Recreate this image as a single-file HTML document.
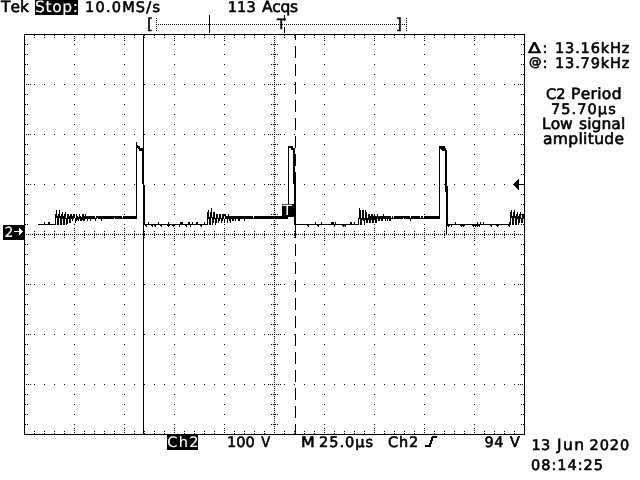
<!DOCTYPE html>
<html lang="en">
<head>
<meta charset="utf-8">
<title>Tek oscilloscope capture</title>
<style>
html,body{margin:0;padding:0;background:#fff;overflow:hidden}
body{width:640px;height:480px;position:relative}
svg{display:block;position:absolute;left:0;top:0}
.g{fill:#000;shape-rendering:crispEdges}
text{font-family:"DejaVu Sans","Liberation Sans",sans-serif;font-size:14.5px;font-kerning:none;fill:#000;stroke:#000;stroke-width:0.6;stroke-linejoin:round;text-rendering:geometricPrecision;white-space:pre}
text.w{fill:#fff;stroke:#fff;stroke-width:0.15}
</style>
</head>
<body>
<svg width="640" height="480" viewBox="0 0 640 480">
<rect width="640" height="480" fill="#fff"/>
<path class="g" d="M3 225h1v15h-1zM4 225h1v15h-1zM5 225h1v15h-1zM6 225h1v15h-1zM7 225h1v15h-1zM8 225h1v15h-1zM9 225h1v15h-1zM10 225h1v15h-1zM11 225h1v15h-1zM12 225h1v15h-1zM13 225h1v15h-1zM14 225h1v6h-1zM14 232h1v8h-1zM15 225h1v6h-1zM15 232h1v8h-1zM16 225h1v6h-1zM16 232h1v8h-1zM17 225h1v6h-1zM17 232h1v8h-1zM18 225h1v6h-1zM18 232h1v8h-1zM20 234h1v6h-1zM21 233h1v7h-1zM22 225h1v6h-1zM22 232h1v8h-1zM23 225h1v15h-1zM24 34h1v401h-1zM35 0h1v15h-1zM36 0h1v15h-1zM37 0h1v15h-1zM38 0h1v15h-1zM39 0h1v15h-1zM40 0h1v15h-1zM41 0h1v15h-1zM42 0h1v15h-1zM43 0h1v15h-1zM44 0h1v15h-1zM45 0h1v15h-1zM46 0h1v15h-1zM47 0h1v15h-1zM48 0h1v15h-1zM49 0h1v15h-1zM50 0h1v15h-1zM51 0h1v15h-1zM52 0h1v15h-1zM53 0h1v15h-1zM54 0h1v15h-1zM55 0h1v15h-1zM55 214h1v11h-1zM56 0h1v15h-1zM56 210h1v8h-1zM57 0h1v15h-1zM57 216h1v9h-1zM58 0h1v15h-1zM58 214h1v11h-1zM59 0h1v15h-1zM59 210h1v8h-1zM60 0h1v15h-1zM60 216h1v9h-1zM61 0h1v15h-1zM61 214h1v11h-1zM62 0h1v15h-1zM62 212h1v7h-1zM63 0h1v15h-1zM63 216h1v9h-1zM64 0h1v15h-1zM64 214h1v11h-1zM65 0h1v15h-1zM65 212h1v7h-1zM66 0h1v15h-1zM66 218h1v7h-1zM67 0h1v15h-1zM67 214h1v10h-1zM68 0h1v15h-1zM69 0h1v15h-1zM69 216h1v7h-1zM70 0h1v15h-1zM70 214h1v9h-1zM71 0h1v15h-1zM72 0h1v15h-1zM73 0h1v15h-1zM74 0h1v15h-1zM75 0h1v15h-1zM76 0h1v15h-1zM76 214h1v7h-1zM77 0h1v15h-1zM82 214h1v6h-1zM83 214h1v7h-1zM136 142h1v77h-1zM142 148h1v36h-1zM143 34h1v401h-1zM144 185h1v40h-1zM167 434h1v16h-1zM168 434h1v16h-1zM169 434h1v16h-1zM170 434h1v16h-1zM171 434h1v16h-1zM172 434h1v16h-1zM173 434h1v16h-1zM174 434h1v16h-1zM175 434h1v16h-1zM176 434h1v16h-1zM177 434h1v16h-1zM178 434h1v16h-1zM179 434h1v16h-1zM180 434h1v16h-1zM181 434h1v16h-1zM182 434h1v16h-1zM183 434h1v16h-1zM184 433h1v17h-1zM185 434h1v16h-1zM186 434h1v16h-1zM187 434h1v16h-1zM188 434h1v16h-1zM189 434h1v16h-1zM190 434h1v16h-1zM191 434h1v16h-1zM192 434h1v16h-1zM193 434h1v16h-1zM194 433h1v17h-1zM195 434h1v16h-1zM196 434h1v16h-1zM197 434h1v16h-1zM207 212h1v13h-1zM208 210h1v9h-1zM209 15h1v18h-1zM209 217h1v8h-1zM210 212h1v13h-1zM211 208h1v10h-1zM212 217h1v8h-1zM213 212h1v11h-1zM214 212h1v7h-1zM215 218h1v7h-1zM216 214h1v9h-1zM219 214h1v7h-1zM222 214h1v7h-1zM227 216h1v7h-1zM230 216h1v7h-1zM282 204h1v15h-1zM283 204h1v15h-1zM284 15h1v6h-1zM284 27h1v6h-1zM284 204h1v15h-1zM285 204h1v15h-1zM286 204h1v15h-1zM287 204h1v15h-1zM288 146h1v71h-1zM289 204h1v13h-1zM290 204h1v13h-1zM291 204h1v13h-1zM292 204h1v13h-1zM293 148h1v36h-1zM293 204h1v13h-1zM294 148h1v77h-1zM295 34h1v6h-1zM295 46h1v12h-1zM295 64h1v12h-1zM295 82h1v12h-1zM295 100h1v12h-1zM295 118h1v12h-1zM295 136h1v12h-1zM295 154h1v12h-1zM295 172h1v66h-1zM295 244h1v12h-1zM295 262h1v12h-1zM295 280h1v12h-1zM295 298h1v12h-1zM295 316h1v12h-1zM295 334h1v12h-1zM295 352h1v12h-1zM295 370h1v12h-1zM295 388h1v12h-1zM295 406h1v12h-1zM295 424h1v11h-1zM358 218h1v7h-1zM359 208h1v11h-1zM360 210h1v15h-1zM361 218h1v7h-1zM362 210h1v10h-1zM363 210h1v11h-1zM364 218h1v7h-1zM365 210h1v10h-1zM366 212h1v11h-1zM368 214h1v6h-1zM369 214h1v9h-1zM370 216h1v7h-1zM371 214h1v6h-1zM372 214h1v9h-1zM373 216h1v7h-1zM374 214h1v6h-1zM375 216h1v7h-1zM376 216h1v7h-1zM430 440h1v7h-1zM431 437h1v7h-1zM439 146h1v73h-1zM445 148h1v44h-1zM446 150h1v85h-1zM447 186h1v40h-1zM510 212h1v13h-1zM511 210h1v8h-1zM512 216h1v9h-1zM513 212h1v13h-1zM514 210h1v8h-1zM515 216h1v9h-1zM516 181h1v7h-1zM516 214h1v11h-1zM517 180h1v9h-1zM517 212h1v7h-1zM518 179h1v11h-1zM518 216h1v9h-1zM519 214h1v9h-1zM520 212h1v7h-1zM522 214h1v9h-1zM524 34h1v401h-1zM156 18h1v1h-1zM406 18h1v1h-1zM156 20h1v1h-1zM406 20h1v1h-1zM156 22h1v1h-1zM406 22h1v1h-1zM156 24h1v1h-1zM158 24h1v1h-1zM160 24h1v1h-1zM162 24h1v1h-1zM164 24h1v1h-1zM166 24h1v1h-1zM168 24h1v1h-1zM170 24h1v1h-1zM172 24h1v1h-1zM174 24h1v1h-1zM176 24h1v1h-1zM178 24h1v1h-1zM180 24h1v1h-1zM182 24h1v1h-1zM184 24h1v1h-1zM186 24h1v1h-1zM188 24h1v1h-1zM190 24h1v1h-1zM192 24h1v1h-1zM194 24h1v1h-1zM196 24h1v1h-1zM198 24h1v1h-1zM200 24h1v1h-1zM202 24h1v1h-1zM204 24h1v1h-1zM206 24h1v1h-1zM208 24h1v1h-1zM210 24h1v1h-1zM212 24h1v1h-1zM214 24h1v1h-1zM216 24h1v1h-1zM218 24h1v1h-1zM220 24h1v1h-1zM222 24h1v1h-1zM224 24h1v1h-1zM226 24h1v1h-1zM228 24h1v1h-1zM230 24h1v1h-1zM232 24h1v1h-1zM234 24h1v1h-1zM236 24h1v1h-1zM238 24h1v1h-1zM240 24h1v1h-1zM242 24h1v1h-1zM244 24h1v1h-1zM246 24h1v1h-1zM248 24h1v1h-1zM250 24h1v1h-1zM252 24h1v1h-1zM254 24h1v1h-1zM256 24h1v1h-1zM258 24h1v1h-1zM260 24h1v1h-1zM262 24h1v1h-1zM264 24h1v1h-1zM266 24h1v1h-1zM268 24h1v1h-1zM270 24h1v1h-1zM272 24h1v1h-1zM274 24h1v1h-1zM276 24h1v1h-1zM278 24h1v1h-1zM280 24h1v1h-1zM282 24h1v1h-1zM284 24h1v1h-1zM286 24h1v1h-1zM288 24h1v1h-1zM290 24h1v1h-1zM292 24h1v1h-1zM294 24h1v1h-1zM296 24h1v1h-1zM298 24h1v1h-1zM300 24h1v1h-1zM302 24h1v1h-1zM304 24h1v1h-1zM306 24h1v1h-1zM308 24h1v1h-1zM310 24h1v1h-1zM312 24h1v1h-1zM314 24h1v1h-1zM316 24h1v1h-1zM318 24h1v1h-1zM320 24h1v1h-1zM322 24h1v1h-1zM324 24h1v1h-1zM326 24h1v1h-1zM328 24h1v1h-1zM330 24h1v1h-1zM332 24h1v1h-1zM334 24h1v1h-1zM336 24h1v1h-1zM338 24h1v1h-1zM340 24h1v1h-1zM342 24h1v1h-1zM344 24h1v1h-1zM346 24h1v1h-1zM348 24h1v1h-1zM350 24h1v1h-1zM352 24h1v1h-1zM354 24h1v1h-1zM356 24h1v1h-1zM358 24h1v1h-1zM360 24h1v1h-1zM362 24h1v1h-1zM364 24h1v1h-1zM366 24h1v1h-1zM368 24h1v1h-1zM370 24h1v1h-1zM372 24h1v1h-1zM374 24h1v1h-1zM376 24h1v1h-1zM378 24h1v1h-1zM380 24h1v1h-1zM382 24h1v1h-1zM384 24h1v1h-1zM386 24h1v1h-1zM388 24h1v1h-1zM390 24h1v1h-1zM392 24h1v1h-1zM394 24h1v1h-1zM396 24h1v1h-1zM398 24h1v1h-1zM400 24h1v1h-1zM402 24h1v1h-1zM404 24h1v1h-1zM406 24h1v1h-1zM156 26h1v1h-1zM406 26h1v1h-1zM156 28h1v1h-1zM406 28h1v1h-1zM156 30h1v1h-1zM406 30h1v1h-1zM25 34h118v1h-118zM144 34h151v1h-151zM296 34h228v1h-228zM34 35h1v1h-1zM44 35h1v1h-1zM54 35h1v1h-1zM64 35h1v1h-1zM84 35h1v1h-1zM94 35h1v1h-1zM104 35h1v1h-1zM114 35h1v1h-1zM134 35h1v1h-1zM144 35h1v1h-1zM154 35h1v1h-1zM164 35h1v1h-1zM184 35h1v1h-1zM194 35h1v1h-1zM204 35h1v1h-1zM214 35h1v1h-1zM234 35h1v1h-1zM244 35h1v1h-1zM254 35h1v1h-1zM264 35h1v1h-1zM284 35h1v1h-1zM294 35h1v1h-1zM304 35h1v1h-1zM314 35h1v1h-1zM334 35h1v1h-1zM344 35h1v1h-1zM354 35h1v1h-1zM364 35h1v1h-1zM384 35h1v1h-1zM394 35h1v1h-1zM404 35h1v1h-1zM414 35h1v1h-1zM434 35h1v1h-1zM444 35h1v1h-1zM454 35h1v1h-1zM464 35h1v1h-1zM484 35h1v1h-1zM494 35h1v1h-1zM504 35h1v1h-1zM514 35h1v1h-1zM74 36h1v1h-1zM124 36h1v1h-1zM174 36h1v1h-1zM224 36h1v1h-1zM274 36h1v1h-1zM324 36h1v1h-1zM374 36h1v1h-1zM424 36h1v1h-1zM474 36h1v1h-1zM34 37h1v1h-1zM44 37h1v1h-1zM54 37h1v1h-1zM64 37h1v1h-1zM84 37h1v1h-1zM94 37h1v1h-1zM104 37h1v1h-1zM114 37h1v1h-1zM134 37h1v1h-1zM144 37h1v1h-1zM154 37h1v1h-1zM164 37h1v1h-1zM184 37h1v1h-1zM194 37h1v1h-1zM204 37h1v1h-1zM214 37h1v1h-1zM234 37h1v1h-1zM244 37h1v1h-1zM254 37h1v1h-1zM264 37h1v1h-1zM284 37h1v1h-1zM294 37h1v1h-1zM304 37h1v1h-1zM314 37h1v1h-1zM334 37h1v1h-1zM344 37h1v1h-1zM354 37h1v1h-1zM364 37h1v1h-1zM384 37h1v1h-1zM394 37h1v1h-1zM404 37h1v1h-1zM414 37h1v1h-1zM434 37h1v1h-1zM444 37h1v1h-1zM454 37h1v1h-1zM464 37h1v1h-1zM484 37h1v1h-1zM494 37h1v1h-1zM504 37h1v1h-1zM514 37h1v1h-1zM74 38h1v1h-1zM124 38h1v1h-1zM174 38h1v1h-1zM224 38h1v1h-1zM274 38h1v1h-1zM324 38h1v1h-1zM374 38h1v1h-1zM424 38h1v1h-1zM474 38h1v1h-1zM74 40h1v1h-1zM124 40h1v1h-1zM174 40h1v1h-1zM224 40h1v1h-1zM274 40h1v1h-1zM324 40h1v1h-1zM374 40h1v1h-1zM424 40h1v1h-1zM474 40h1v1h-1zM274 42h1v1h-1zM25 44h1v1h-1zM27 44h1v1h-1zM74 44h1v1h-1zM124 44h1v1h-1zM174 44h1v1h-1zM224 44h1v1h-1zM271 44h1v1h-1zM273 44h3v1h-3zM277 44h1v1h-1zM324 44h1v1h-1zM374 44h1v1h-1zM424 44h1v1h-1zM474 44h1v1h-1zM521 44h1v1h-1zM523 44h1v1h-1zM274 46h1v1h-1zM274 48h1v1h-1zM274 50h1v1h-1zM274 52h1v1h-1zM25 54h1v1h-1zM27 54h1v1h-1zM74 54h1v1h-1zM124 54h1v1h-1zM174 54h1v1h-1zM224 54h1v1h-1zM271 54h1v1h-1zM273 54h3v1h-3zM277 54h1v1h-1zM324 54h1v1h-1zM374 54h1v1h-1zM424 54h1v1h-1zM474 54h1v1h-1zM521 54h1v1h-1zM523 54h1v1h-1zM274 56h1v1h-1zM274 58h1v1h-1zM274 60h1v1h-1zM274 62h1v1h-1zM25 64h1v1h-1zM27 64h1v1h-1zM74 64h1v1h-1zM124 64h1v1h-1zM174 64h1v1h-1zM224 64h1v1h-1zM271 64h1v1h-1zM273 64h3v1h-3zM277 64h1v1h-1zM324 64h1v1h-1zM374 64h1v1h-1zM424 64h1v1h-1zM474 64h1v1h-1zM521 64h1v1h-1zM523 64h1v1h-1zM274 66h1v1h-1zM274 68h1v1h-1zM274 70h1v1h-1zM274 72h1v1h-1zM25 74h1v1h-1zM27 74h1v1h-1zM74 74h1v1h-1zM124 74h1v1h-1zM174 74h1v1h-1zM224 74h1v1h-1zM271 74h1v1h-1zM273 74h3v1h-3zM277 74h1v1h-1zM324 74h1v1h-1zM374 74h1v1h-1zM424 74h1v1h-1zM474 74h1v1h-1zM521 74h1v1h-1zM523 74h1v1h-1zM274 76h1v1h-1zM274 78h1v1h-1zM274 80h1v1h-1zM274 82h1v1h-1zM26 84h1v1h-1zM28 84h1v1h-1zM30 84h1v1h-1zM34 84h1v1h-1zM44 84h1v1h-1zM54 84h1v1h-1zM64 84h1v1h-1zM74 84h1v1h-1zM84 84h1v1h-1zM94 84h1v1h-1zM104 84h1v1h-1zM114 84h1v1h-1zM124 84h1v1h-1zM134 84h1v1h-1zM144 84h1v1h-1zM154 84h1v1h-1zM164 84h1v1h-1zM174 84h1v1h-1zM184 84h1v1h-1zM194 84h1v1h-1zM204 84h1v1h-1zM214 84h1v1h-1zM224 84h1v1h-1zM234 84h1v1h-1zM244 84h1v1h-1zM254 84h1v1h-1zM264 84h1v1h-1zM268 84h1v1h-1zM270 84h1v1h-1zM272 84h1v1h-1zM274 84h1v1h-1zM276 84h1v1h-1zM278 84h1v1h-1zM280 84h1v1h-1zM284 84h1v1h-1zM294 84h1v1h-1zM304 84h1v1h-1zM314 84h1v1h-1zM324 84h1v1h-1zM334 84h1v1h-1zM344 84h1v1h-1zM354 84h1v1h-1zM364 84h1v1h-1zM374 84h1v1h-1zM384 84h1v1h-1zM394 84h1v1h-1zM404 84h1v1h-1zM414 84h1v1h-1zM424 84h1v1h-1zM434 84h1v1h-1zM444 84h1v1h-1zM454 84h1v1h-1zM464 84h1v1h-1zM474 84h1v1h-1zM484 84h1v1h-1zM494 84h1v1h-1zM504 84h1v1h-1zM514 84h1v1h-1zM518 84h1v1h-1zM520 84h1v1h-1zM522 84h1v1h-1zM274 86h1v1h-1zM274 88h1v1h-1zM274 90h1v1h-1zM274 92h1v1h-1zM25 94h1v1h-1zM27 94h1v1h-1zM74 94h1v1h-1zM124 94h1v1h-1zM174 94h1v1h-1zM224 94h1v1h-1zM271 94h1v1h-1zM273 94h3v1h-3zM277 94h1v1h-1zM324 94h1v1h-1zM374 94h1v1h-1zM424 94h1v1h-1zM474 94h1v1h-1zM521 94h1v1h-1zM523 94h1v1h-1zM274 96h1v1h-1zM274 98h1v1h-1zM274 100h1v1h-1zM274 102h1v1h-1zM25 104h1v1h-1zM27 104h1v1h-1zM74 104h1v1h-1zM124 104h1v1h-1zM174 104h1v1h-1zM224 104h1v1h-1zM271 104h1v1h-1zM273 104h3v1h-3zM277 104h1v1h-1zM324 104h1v1h-1zM374 104h1v1h-1zM424 104h1v1h-1zM474 104h1v1h-1zM521 104h1v1h-1zM523 104h1v1h-1zM274 106h1v1h-1zM274 108h1v1h-1zM274 110h1v1h-1zM274 112h1v1h-1zM25 114h1v1h-1zM27 114h1v1h-1zM74 114h1v1h-1zM124 114h1v1h-1zM174 114h1v1h-1zM224 114h1v1h-1zM271 114h1v1h-1zM273 114h3v1h-3zM277 114h1v1h-1zM324 114h1v1h-1zM374 114h1v1h-1zM424 114h1v1h-1zM474 114h1v1h-1zM521 114h1v1h-1zM523 114h1v1h-1zM274 116h1v1h-1zM274 118h1v1h-1zM274 120h1v1h-1zM274 122h1v1h-1zM25 124h1v1h-1zM27 124h1v1h-1zM74 124h1v1h-1zM124 124h1v1h-1zM174 124h1v1h-1zM224 124h1v1h-1zM271 124h1v1h-1zM273 124h3v1h-3zM277 124h1v1h-1zM324 124h1v1h-1zM374 124h1v1h-1zM424 124h1v1h-1zM474 124h1v1h-1zM521 124h1v1h-1zM523 124h1v1h-1zM274 126h1v1h-1zM274 128h1v1h-1zM274 130h1v1h-1zM274 132h1v1h-1zM26 134h1v1h-1zM28 134h1v1h-1zM30 134h1v1h-1zM34 134h1v1h-1zM44 134h1v1h-1zM54 134h1v1h-1zM64 134h1v1h-1zM74 134h1v1h-1zM84 134h1v1h-1zM94 134h1v1h-1zM104 134h1v1h-1zM114 134h1v1h-1zM124 134h1v1h-1zM134 134h1v1h-1zM144 134h1v1h-1zM154 134h1v1h-1zM164 134h1v1h-1zM174 134h1v1h-1zM184 134h1v1h-1zM194 134h1v1h-1zM204 134h1v1h-1zM214 134h1v1h-1zM224 134h1v1h-1zM234 134h1v1h-1zM244 134h1v1h-1zM254 134h1v1h-1zM264 134h1v1h-1zM268 134h1v1h-1zM270 134h1v1h-1zM272 134h1v1h-1zM274 134h1v1h-1zM276 134h1v1h-1zM278 134h1v1h-1zM280 134h1v1h-1zM284 134h1v1h-1zM294 134h1v1h-1zM304 134h1v1h-1zM314 134h1v1h-1zM324 134h1v1h-1zM334 134h1v1h-1zM344 134h1v1h-1zM354 134h1v1h-1zM364 134h1v1h-1zM374 134h1v1h-1zM384 134h1v1h-1zM394 134h1v1h-1zM404 134h1v1h-1zM414 134h1v1h-1zM424 134h1v1h-1zM434 134h1v1h-1zM444 134h1v1h-1zM454 134h1v1h-1zM464 134h1v1h-1zM474 134h1v1h-1zM484 134h1v1h-1zM494 134h1v1h-1zM504 134h1v1h-1zM514 134h1v1h-1zM518 134h1v1h-1zM520 134h1v1h-1zM522 134h1v1h-1zM274 136h1v1h-1zM274 138h1v1h-1zM274 140h1v1h-1zM274 142h1v1h-1zM25 144h1v1h-1zM27 144h1v1h-1zM74 144h1v1h-1zM124 144h1v1h-1zM174 144h1v1h-1zM224 144h1v1h-1zM271 144h1v1h-1zM273 144h3v1h-3zM277 144h1v1h-1zM324 144h1v1h-1zM374 144h1v1h-1zM424 144h1v1h-1zM474 144h1v1h-1zM521 144h1v1h-1zM523 144h1v1h-1zM137 145h1v1h-1zM137 146h3v1h-3zM274 146h1v1h-1zM289 146h4v1h-4zM440 146h5v1h-5zM137 147h3v1h-3zM289 147h4v1h-4zM440 147h5v1h-5zM138 148h4v1h-4zM274 148h1v1h-1zM291 148h2v1h-2zM440 148h5v1h-5zM139 149h3v1h-3zM291 149h2v1h-2zM441 149h4v1h-4zM139 150h3v1h-3zM274 150h1v1h-1zM442 150h3v1h-3zM274 152h1v1h-1zM25 154h1v1h-1zM27 154h1v1h-1zM74 154h1v1h-1zM124 154h1v1h-1zM174 154h1v1h-1zM224 154h1v1h-1zM271 154h1v1h-1zM273 154h3v1h-3zM277 154h1v1h-1zM324 154h1v1h-1zM374 154h1v1h-1zM424 154h1v1h-1zM474 154h1v1h-1zM521 154h1v1h-1zM523 154h1v1h-1zM274 156h1v1h-1zM274 158h1v1h-1zM274 160h1v1h-1zM274 162h1v1h-1zM25 164h1v1h-1zM27 164h1v1h-1zM74 164h1v1h-1zM124 164h1v1h-1zM174 164h1v1h-1zM224 164h1v1h-1zM271 164h1v1h-1zM273 164h3v1h-3zM277 164h1v1h-1zM324 164h1v1h-1zM374 164h1v1h-1zM424 164h1v1h-1zM474 164h1v1h-1zM521 164h1v1h-1zM523 164h1v1h-1zM274 166h1v1h-1zM274 168h1v1h-1zM274 170h1v1h-1zM274 172h1v1h-1zM25 174h1v1h-1zM27 174h1v1h-1zM74 174h1v1h-1zM124 174h1v1h-1zM174 174h1v1h-1zM224 174h1v1h-1zM271 174h1v1h-1zM273 174h3v1h-3zM277 174h1v1h-1zM324 174h1v1h-1zM374 174h1v1h-1zM424 174h1v1h-1zM474 174h1v1h-1zM521 174h1v1h-1zM523 174h1v1h-1zM274 176h1v1h-1zM274 178h1v1h-1zM274 180h1v1h-1zM274 182h1v1h-1zM515 182h1v1h-1zM514 183h2v1h-2zM26 184h1v1h-1zM28 184h1v1h-1zM30 184h1v1h-1zM34 184h1v1h-1zM44 184h1v1h-1zM54 184h1v1h-1zM64 184h1v1h-1zM74 184h1v1h-1zM84 184h1v1h-1zM94 184h1v1h-1zM104 184h1v1h-1zM114 184h1v1h-1zM124 184h1v1h-1zM134 184h1v1h-1zM154 184h1v1h-1zM164 184h1v1h-1zM174 184h1v1h-1zM184 184h1v1h-1zM194 184h1v1h-1zM204 184h1v1h-1zM214 184h1v1h-1zM224 184h1v1h-1zM234 184h1v1h-1zM244 184h1v1h-1zM254 184h1v1h-1zM264 184h1v1h-1zM268 184h1v1h-1zM270 184h1v1h-1zM272 184h1v1h-1zM274 184h1v1h-1zM276 184h1v1h-1zM278 184h1v1h-1zM280 184h1v1h-1zM284 184h1v1h-1zM304 184h1v1h-1zM314 184h1v1h-1zM324 184h1v1h-1zM334 184h1v1h-1zM344 184h1v1h-1zM354 184h1v1h-1zM364 184h1v1h-1zM374 184h1v1h-1zM384 184h1v1h-1zM394 184h1v1h-1zM404 184h1v1h-1zM414 184h1v1h-1zM424 184h1v1h-1zM434 184h1v1h-1zM444 184h1v1h-1zM454 184h1v1h-1zM464 184h1v1h-1zM474 184h1v1h-1zM484 184h1v1h-1zM494 184h1v1h-1zM504 184h1v1h-1zM513 184h3v1h-3zM519 184h5v1h-5zM514 185h2v1h-2zM274 186h1v1h-1zM515 186h1v1h-1zM274 188h1v1h-1zM274 190h1v1h-1zM274 192h1v1h-1zM25 194h1v1h-1zM27 194h1v1h-1zM74 194h1v1h-1zM124 194h1v1h-1zM174 194h1v1h-1zM224 194h1v1h-1zM271 194h1v1h-1zM273 194h3v1h-3zM277 194h1v1h-1zM324 194h1v1h-1zM374 194h1v1h-1zM424 194h1v1h-1zM474 194h1v1h-1zM521 194h1v1h-1zM523 194h1v1h-1zM274 196h1v1h-1zM274 198h1v1h-1zM274 200h1v1h-1zM274 202h1v1h-1zM25 204h1v1h-1zM27 204h1v1h-1zM74 204h1v1h-1zM124 204h1v1h-1zM174 204h1v1h-1zM224 204h1v1h-1zM271 204h1v1h-1zM273 204h3v1h-3zM277 204h1v1h-1zM324 204h1v1h-1zM374 204h1v1h-1zM424 204h1v1h-1zM474 204h1v1h-1zM521 204h1v1h-1zM523 204h1v1h-1zM274 206h1v1h-1zM274 208h1v1h-1zM274 210h1v1h-1zM274 212h1v1h-1zM25 214h1v1h-1zM27 214h1v1h-1zM68 214h1v1h-1zM71 214h1v1h-1zM73 214h2v1h-2zM79 214h1v1h-1zM85 214h1v1h-1zM124 214h1v1h-1zM174 214h1v1h-1zM217 214h1v1h-1zM220 214h1v1h-1zM223 214h3v1h-3zM228 214h1v1h-1zM271 214h1v1h-1zM273 214h3v1h-3zM277 214h1v1h-1zM324 214h1v1h-1zM377 214h1v1h-1zM383 214h1v1h-1zM424 214h1v1h-1zM474 214h1v1h-1zM521 214h1v1h-1zM523 214h1v1h-1zM68 215h1v1h-1zM71 215h1v1h-1zM73 215h2v1h-2zM79 215h1v1h-1zM85 215h1v1h-1zM217 215h1v1h-1zM220 215h1v1h-1zM223 215h3v1h-3zM228 215h1v1h-1zM377 215h1v1h-1zM383 215h1v1h-1zM523 215h1v1h-1zM68 216h1v1h-1zM71 216h4v1h-4zM77 216h1v1h-1zM79 216h2v1h-2zM84 216h11v1h-11zM96 216h26v1h-26zM123 216h13v1h-13zM217 216h1v1h-1zM220 216h1v1h-1zM223 216h1v1h-1zM225 216h2v1h-2zM228 216h2v1h-2zM231 216h22v1h-22zM254 216h28v1h-28zM377 216h14v1h-14zM392 216h1v1h-1zM394 216h16v1h-16zM411 216h9v1h-9zM421 216h2v1h-2zM424 216h15v1h-15zM523 216h1v1h-1zM68 217h1v1h-1zM71 217h4v1h-4zM77 217h5v1h-5zM84 217h11v1h-11zM96 217h26v1h-26zM123 217h13v1h-13zM217 217h1v1h-1zM220 217h1v1h-1zM223 217h1v1h-1zM225 217h2v1h-2zM228 217h2v1h-2zM231 217h22v1h-22zM254 217h28v1h-28zM377 217h14v1h-14zM392 217h1v1h-1zM394 217h16v1h-16zM411 217h9v1h-9zM421 217h2v1h-2zM424 217h15v1h-15zM523 217h1v1h-1zM68 218h1v1h-1zM71 218h3v1h-3zM75 218h1v1h-1zM77 218h5v1h-5zM84 218h13v1h-13zM98 218h16v1h-16zM115 218h21v1h-21zM217 218h2v1h-2zM220 218h2v1h-2zM223 218h1v1h-1zM225 218h2v1h-2zM228 218h2v1h-2zM231 218h51v1h-51zM367 218h1v1h-1zM377 218h26v1h-26zM404 218h35v1h-35zM521 218h1v1h-1zM523 218h1v1h-1zM72 219h1v1h-1zM75 219h1v1h-1zM77 219h2v1h-2zM80 219h2v1h-2zM84 219h1v1h-1zM87 219h1v1h-1zM90 219h1v1h-1zM95 219h1v1h-1zM101 219h1v1h-1zM218 219h1v1h-1zM221 219h1v1h-1zM224 219h1v1h-1zM229 219h1v1h-1zM232 219h2v1h-2zM235 219h1v1h-1zM238 219h2v1h-2zM244 219h1v1h-1zM367 219h1v1h-1zM378 219h2v1h-2zM381 219h2v1h-2zM385 219h1v1h-1zM387 219h1v1h-1zM389 219h2v1h-2zM410 219h1v1h-1zM521 219h1v1h-1zM72 220h1v1h-1zM75 220h1v1h-1zM78 220h1v1h-1zM80 220h2v1h-2zM84 220h1v1h-1zM87 220h1v1h-1zM90 220h1v1h-1zM95 220h1v1h-1zM101 220h1v1h-1zM218 220h1v1h-1zM221 220h1v1h-1zM224 220h1v1h-1zM229 220h1v1h-1zM232 220h2v1h-2zM235 220h1v1h-1zM238 220h2v1h-2zM244 220h1v1h-1zM274 220h1v1h-1zM367 220h1v1h-1zM378 220h2v1h-2zM381 220h2v1h-2zM385 220h1v1h-1zM387 220h1v1h-1zM389 220h2v1h-2zM410 220h1v1h-1zM521 220h1v1h-1zM75 221h1v1h-1zM218 221h1v1h-1zM221 221h1v1h-1zM224 221h1v1h-1zM367 221h1v1h-1zM521 221h1v1h-1zM44 222h1v1h-1zM48 222h2v1h-2zM75 222h1v1h-1zM148 222h1v1h-1zM158 222h1v1h-1zM168 222h1v1h-1zM180 222h3v1h-3zM188 222h2v1h-2zM192 222h1v1h-1zM196 222h2v1h-2zM204 222h1v1h-1zM218 222h1v1h-1zM221 222h1v1h-1zM224 222h1v1h-1zM274 222h1v1h-1zM315 222h1v1h-1zM321 222h1v1h-1zM331 222h3v1h-3zM335 222h1v1h-1zM350 222h2v1h-2zM354 222h1v1h-1zM367 222h1v1h-1zM455 222h1v1h-1zM477 222h1v1h-1zM480 222h1v1h-1zM483 222h1v1h-1zM509 222h1v1h-1zM521 222h1v1h-1zM44 223h1v1h-1zM48 223h2v1h-2zM148 223h1v1h-1zM158 223h1v1h-1zM168 223h1v1h-1zM180 223h3v1h-3zM188 223h2v1h-2zM192 223h1v1h-1zM196 223h2v1h-2zM204 223h1v1h-1zM315 223h1v1h-1zM321 223h1v1h-1zM331 223h3v1h-3zM335 223h1v1h-1zM350 223h2v1h-2zM354 223h1v1h-1zM455 223h1v1h-1zM477 223h1v1h-1zM480 223h1v1h-1zM483 223h1v1h-1zM509 223h1v1h-1zM25 224h1v1h-1zM27 224h1v1h-1zM38 224h17v1h-17zM74 224h1v1h-1zM124 224h1v1h-1zM145 224h62v1h-62zM224 224h1v1h-1zM271 224h1v1h-1zM273 224h3v1h-3zM277 224h1v1h-1zM296 224h62v1h-62zM374 224h1v1h-1zM424 224h1v1h-1zM448 224h62v1h-62zM521 224h1v1h-1zM523 224h1v1h-1zM19 225h3v1h-3zM145 225h2v1h-2zM151 225h2v1h-2zM154 225h2v1h-2zM160 225h2v1h-2zM167 225h3v1h-3zM172 225h3v1h-3zM179 225h1v1h-1zM185 225h2v1h-2zM190 225h1v1h-1zM200 225h2v1h-2zM307 225h2v1h-2zM317 225h2v1h-2zM334 225h1v1h-1zM342 225h4v1h-4zM448 225h2v1h-2zM451 225h1v1h-1zM460 225h5v1h-5zM472 225h8v1h-8zM490 225h2v1h-2zM496 225h3v1h-3zM508 225h2v1h-2zM19 226h3v1h-3zM146 226h1v1h-1zM152 226h1v1h-1zM155 226h1v1h-1zM161 226h1v1h-1zM168 226h1v1h-1zM173 226h1v1h-1zM179 226h1v1h-1zM186 226h1v1h-1zM190 226h1v1h-1zM201 226h1v1h-1zM274 226h1v1h-1zM308 226h1v1h-1zM318 226h1v1h-1zM334 226h1v1h-1zM343 226h1v1h-1zM345 226h1v1h-1zM448 226h1v1h-1zM451 226h1v1h-1zM461 226h1v1h-1zM463 226h1v1h-1zM473 226h1v1h-1zM475 226h1v1h-1zM477 226h1v1h-1zM479 226h1v1h-1zM491 226h1v1h-1zM497 226h1v1h-1zM509 226h1v1h-1zM19 227h3v1h-3zM20 228h2v1h-2zM74 228h1v1h-1zM124 228h1v1h-1zM174 228h1v1h-1zM224 228h1v1h-1zM274 228h1v1h-1zM324 228h1v1h-1zM374 228h1v1h-1zM424 228h1v1h-1zM474 228h1v1h-1zM21 229h1v1h-1zM74 230h1v1h-1zM124 230h1v1h-1zM174 230h1v1h-1zM224 230h1v1h-1zM274 230h1v1h-1zM324 230h1v1h-1zM374 230h1v1h-1zM424 230h1v1h-1zM474 230h1v1h-1zM34 231h1v1h-1zM44 231h1v1h-1zM54 231h1v1h-1zM64 231h1v1h-1zM84 231h1v1h-1zM94 231h1v1h-1zM104 231h1v1h-1zM114 231h1v1h-1zM134 231h1v1h-1zM144 231h1v1h-1zM154 231h1v1h-1zM164 231h1v1h-1zM184 231h1v1h-1zM194 231h1v1h-1zM204 231h1v1h-1zM214 231h1v1h-1zM234 231h1v1h-1zM244 231h1v1h-1zM254 231h1v1h-1zM264 231h1v1h-1zM284 231h1v1h-1zM294 231h1v1h-1zM304 231h1v1h-1zM314 231h1v1h-1zM334 231h1v1h-1zM344 231h1v1h-1zM354 231h1v1h-1zM364 231h1v1h-1zM384 231h1v1h-1zM394 231h1v1h-1zM404 231h1v1h-1zM414 231h1v1h-1zM434 231h1v1h-1zM444 231h1v1h-1zM454 231h1v1h-1zM464 231h1v1h-1zM484 231h1v1h-1zM494 231h1v1h-1zM504 231h1v1h-1zM514 231h1v1h-1zM74 232h1v1h-1zM124 232h1v1h-1zM174 232h1v1h-1zM224 232h1v1h-1zM274 232h1v1h-1zM324 232h1v1h-1zM374 232h1v1h-1zM424 232h1v1h-1zM474 232h1v1h-1zM34 233h1v1h-1zM44 233h1v1h-1zM54 233h1v1h-1zM64 233h1v1h-1zM84 233h1v1h-1zM94 233h1v1h-1zM104 233h1v1h-1zM114 233h1v1h-1zM134 233h1v1h-1zM144 233h1v1h-1zM154 233h1v1h-1zM164 233h1v1h-1zM184 233h1v1h-1zM194 233h1v1h-1zM204 233h1v1h-1zM214 233h1v1h-1zM234 233h1v1h-1zM244 233h1v1h-1zM254 233h1v1h-1zM264 233h1v1h-1zM284 233h1v1h-1zM294 233h1v1h-1zM304 233h1v1h-1zM314 233h1v1h-1zM334 233h1v1h-1zM344 233h1v1h-1zM354 233h1v1h-1zM364 233h1v1h-1zM384 233h1v1h-1zM394 233h1v1h-1zM404 233h1v1h-1zM414 233h1v1h-1zM434 233h1v1h-1zM444 233h1v1h-1zM454 233h1v1h-1zM464 233h1v1h-1zM484 233h1v1h-1zM494 233h1v1h-1zM504 233h1v1h-1zM514 233h1v1h-1zM26 234h1v1h-1zM28 234h1v1h-1zM30 234h1v1h-1zM32 234h1v1h-1zM34 234h1v1h-1zM36 234h1v1h-1zM38 234h1v1h-1zM40 234h1v1h-1zM42 234h1v1h-1zM44 234h1v1h-1zM46 234h1v1h-1zM48 234h1v1h-1zM50 234h1v1h-1zM52 234h1v1h-1zM54 234h1v1h-1zM56 234h1v1h-1zM58 234h1v1h-1zM60 234h1v1h-1zM62 234h1v1h-1zM64 234h1v1h-1zM66 234h1v1h-1zM68 234h1v1h-1zM70 234h1v1h-1zM72 234h1v1h-1zM74 234h1v1h-1zM76 234h1v1h-1zM78 234h1v1h-1zM80 234h1v1h-1zM82 234h1v1h-1zM84 234h1v1h-1zM86 234h1v1h-1zM88 234h1v1h-1zM90 234h1v1h-1zM92 234h1v1h-1zM94 234h1v1h-1zM96 234h1v1h-1zM98 234h1v1h-1zM100 234h1v1h-1zM102 234h1v1h-1zM104 234h1v1h-1zM106 234h1v1h-1zM108 234h1v1h-1zM110 234h1v1h-1zM112 234h1v1h-1zM114 234h1v1h-1zM116 234h1v1h-1zM118 234h1v1h-1zM120 234h1v1h-1zM122 234h1v1h-1zM124 234h1v1h-1zM126 234h1v1h-1zM128 234h1v1h-1zM130 234h1v1h-1zM132 234h1v1h-1zM134 234h1v1h-1zM136 234h1v1h-1zM138 234h1v1h-1zM140 234h1v1h-1zM142 234h1v1h-1zM144 234h1v1h-1zM146 234h1v1h-1zM148 234h1v1h-1zM150 234h1v1h-1zM152 234h1v1h-1zM154 234h1v1h-1zM156 234h1v1h-1zM158 234h1v1h-1zM160 234h1v1h-1zM162 234h1v1h-1zM164 234h1v1h-1zM166 234h1v1h-1zM168 234h1v1h-1zM170 234h1v1h-1zM172 234h1v1h-1zM174 234h1v1h-1zM176 234h1v1h-1zM178 234h1v1h-1zM180 234h1v1h-1zM182 234h1v1h-1zM184 234h1v1h-1zM186 234h1v1h-1zM188 234h1v1h-1zM190 234h1v1h-1zM192 234h1v1h-1zM194 234h1v1h-1zM196 234h1v1h-1zM198 234h1v1h-1zM200 234h1v1h-1zM202 234h1v1h-1zM204 234h1v1h-1zM206 234h1v1h-1zM208 234h1v1h-1zM210 234h1v1h-1zM212 234h1v1h-1zM214 234h1v1h-1zM216 234h1v1h-1zM218 234h1v1h-1zM220 234h1v1h-1zM222 234h1v1h-1zM224 234h1v1h-1zM226 234h1v1h-1zM228 234h1v1h-1zM230 234h1v1h-1zM232 234h1v1h-1zM234 234h1v1h-1zM236 234h1v1h-1zM238 234h1v1h-1zM240 234h1v1h-1zM242 234h1v1h-1zM244 234h1v1h-1zM246 234h1v1h-1zM248 234h1v1h-1zM250 234h1v1h-1zM252 234h1v1h-1zM254 234h1v1h-1zM256 234h1v1h-1zM258 234h1v1h-1zM260 234h1v1h-1zM262 234h1v1h-1zM264 234h1v1h-1zM266 234h1v1h-1zM268 234h1v1h-1zM270 234h1v1h-1zM272 234h1v1h-1zM274 234h1v1h-1zM276 234h1v1h-1zM278 234h1v1h-1zM280 234h1v1h-1zM282 234h1v1h-1zM284 234h1v1h-1zM286 234h1v1h-1zM288 234h1v1h-1zM290 234h1v1h-1zM292 234h1v1h-1zM294 234h1v1h-1zM296 234h1v1h-1zM298 234h1v1h-1zM300 234h1v1h-1zM302 234h1v1h-1zM304 234h1v1h-1zM306 234h1v1h-1zM308 234h1v1h-1zM310 234h1v1h-1zM312 234h1v1h-1zM314 234h1v1h-1zM316 234h1v1h-1zM318 234h1v1h-1zM320 234h1v1h-1zM322 234h1v1h-1zM324 234h1v1h-1zM326 234h1v1h-1zM328 234h1v1h-1zM330 234h1v1h-1zM332 234h1v1h-1zM334 234h1v1h-1zM336 234h1v1h-1zM338 234h1v1h-1zM340 234h1v1h-1zM342 234h1v1h-1zM344 234h1v1h-1zM346 234h1v1h-1zM348 234h1v1h-1zM350 234h1v1h-1zM352 234h1v1h-1zM354 234h1v1h-1zM356 234h1v1h-1zM358 234h1v1h-1zM360 234h1v1h-1zM362 234h1v1h-1zM364 234h1v1h-1zM366 234h1v1h-1zM368 234h1v1h-1zM370 234h1v1h-1zM372 234h1v1h-1zM374 234h1v1h-1zM376 234h1v1h-1zM378 234h1v1h-1zM380 234h1v1h-1zM382 234h1v1h-1zM384 234h1v1h-1zM386 234h1v1h-1zM388 234h1v1h-1zM390 234h1v1h-1zM392 234h1v1h-1zM394 234h1v1h-1zM396 234h1v1h-1zM398 234h1v1h-1zM400 234h1v1h-1zM402 234h1v1h-1zM404 234h1v1h-1zM406 234h1v1h-1zM408 234h1v1h-1zM410 234h1v1h-1zM412 234h1v1h-1zM414 234h1v1h-1zM416 234h1v1h-1zM418 234h1v1h-1zM420 234h1v1h-1zM422 234h1v1h-1zM424 234h1v1h-1zM426 234h1v1h-1zM428 234h1v1h-1zM430 234h1v1h-1zM432 234h1v1h-1zM434 234h1v1h-1zM436 234h1v1h-1zM438 234h1v1h-1zM440 234h1v1h-1zM442 234h1v1h-1zM444 234h1v1h-1zM448 234h1v1h-1zM450 234h1v1h-1zM452 234h1v1h-1zM454 234h1v1h-1zM456 234h1v1h-1zM458 234h1v1h-1zM460 234h1v1h-1zM462 234h1v1h-1zM464 234h1v1h-1zM466 234h1v1h-1zM468 234h1v1h-1zM470 234h1v1h-1zM472 234h1v1h-1zM474 234h1v1h-1zM476 234h1v1h-1zM478 234h1v1h-1zM480 234h1v1h-1zM482 234h1v1h-1zM484 234h1v1h-1zM486 234h1v1h-1zM488 234h1v1h-1zM490 234h1v1h-1zM492 234h1v1h-1zM494 234h1v1h-1zM496 234h1v1h-1zM498 234h1v1h-1zM500 234h1v1h-1zM502 234h1v1h-1zM504 234h1v1h-1zM506 234h1v1h-1zM508 234h1v1h-1zM510 234h1v1h-1zM512 234h1v1h-1zM514 234h1v1h-1zM516 234h1v1h-1zM518 234h1v1h-1zM520 234h1v1h-1zM522 234h1v1h-1zM19 235h1v1h-1zM34 235h1v1h-1zM44 235h1v1h-1zM54 235h1v1h-1zM64 235h1v1h-1zM84 235h1v1h-1zM94 235h1v1h-1zM104 235h1v1h-1zM114 235h1v1h-1zM134 235h1v1h-1zM144 235h1v1h-1zM154 235h1v1h-1zM164 235h1v1h-1zM184 235h1v1h-1zM194 235h1v1h-1zM204 235h1v1h-1zM214 235h1v1h-1zM234 235h1v1h-1zM244 235h1v1h-1zM254 235h1v1h-1zM264 235h1v1h-1zM284 235h1v1h-1zM294 235h1v1h-1zM304 235h1v1h-1zM314 235h1v1h-1zM334 235h1v1h-1zM344 235h1v1h-1zM354 235h1v1h-1zM364 235h1v1h-1zM384 235h1v1h-1zM394 235h1v1h-1zM404 235h1v1h-1zM414 235h1v1h-1zM434 235h1v1h-1zM444 235h1v1h-1zM454 235h1v1h-1zM464 235h1v1h-1zM484 235h1v1h-1zM494 235h1v1h-1zM504 235h1v1h-1zM514 235h1v1h-1zM19 236h1v1h-1zM74 236h1v1h-1zM124 236h1v1h-1zM174 236h1v1h-1zM224 236h1v1h-1zM274 236h1v1h-1zM324 236h1v1h-1zM374 236h1v1h-1zM424 236h1v1h-1zM474 236h1v1h-1zM19 237h1v1h-1zM34 237h1v1h-1zM44 237h1v1h-1zM54 237h1v1h-1zM64 237h1v1h-1zM84 237h1v1h-1zM94 237h1v1h-1zM104 237h1v1h-1zM114 237h1v1h-1zM134 237h1v1h-1zM144 237h1v1h-1zM154 237h1v1h-1zM164 237h1v1h-1zM184 237h1v1h-1zM194 237h1v1h-1zM204 237h1v1h-1zM214 237h1v1h-1zM234 237h1v1h-1zM244 237h1v1h-1zM254 237h1v1h-1zM264 237h1v1h-1zM284 237h1v1h-1zM294 237h1v1h-1zM304 237h1v1h-1zM314 237h1v1h-1zM334 237h1v1h-1zM344 237h1v1h-1zM354 237h1v1h-1zM364 237h1v1h-1zM384 237h1v1h-1zM394 237h1v1h-1zM404 237h1v1h-1zM414 237h1v1h-1zM434 237h1v1h-1zM444 237h1v1h-1zM454 237h1v1h-1zM464 237h1v1h-1zM484 237h1v1h-1zM494 237h1v1h-1zM504 237h1v1h-1zM514 237h1v1h-1zM19 238h1v1h-1zM74 238h1v1h-1zM124 238h1v1h-1zM174 238h1v1h-1zM224 238h1v1h-1zM274 238h1v1h-1zM324 238h1v1h-1zM374 238h1v1h-1zM424 238h1v1h-1zM474 238h1v1h-1zM19 239h1v1h-1zM74 240h1v1h-1zM124 240h1v1h-1zM174 240h1v1h-1zM224 240h1v1h-1zM274 240h1v1h-1zM324 240h1v1h-1zM374 240h1v1h-1zM424 240h1v1h-1zM474 240h1v1h-1zM274 242h1v1h-1zM25 244h1v1h-1zM27 244h1v1h-1zM74 244h1v1h-1zM124 244h1v1h-1zM174 244h1v1h-1zM224 244h1v1h-1zM271 244h1v1h-1zM273 244h3v1h-3zM277 244h1v1h-1zM324 244h1v1h-1zM374 244h1v1h-1zM424 244h1v1h-1zM474 244h1v1h-1zM521 244h1v1h-1zM523 244h1v1h-1zM274 246h1v1h-1zM274 248h1v1h-1zM274 250h1v1h-1zM274 252h1v1h-1zM25 254h1v1h-1zM27 254h1v1h-1zM74 254h1v1h-1zM124 254h1v1h-1zM174 254h1v1h-1zM224 254h1v1h-1zM271 254h1v1h-1zM273 254h3v1h-3zM277 254h1v1h-1zM324 254h1v1h-1zM374 254h1v1h-1zM424 254h1v1h-1zM474 254h1v1h-1zM521 254h1v1h-1zM523 254h1v1h-1zM274 256h1v1h-1zM274 258h1v1h-1zM274 260h1v1h-1zM274 262h1v1h-1zM25 264h1v1h-1zM27 264h1v1h-1zM74 264h1v1h-1zM124 264h1v1h-1zM174 264h1v1h-1zM224 264h1v1h-1zM271 264h1v1h-1zM273 264h3v1h-3zM277 264h1v1h-1zM324 264h1v1h-1zM374 264h1v1h-1zM424 264h1v1h-1zM474 264h1v1h-1zM521 264h1v1h-1zM523 264h1v1h-1zM274 266h1v1h-1zM274 268h1v1h-1zM274 270h1v1h-1zM274 272h1v1h-1zM25 274h1v1h-1zM27 274h1v1h-1zM74 274h1v1h-1zM124 274h1v1h-1zM174 274h1v1h-1zM224 274h1v1h-1zM271 274h1v1h-1zM273 274h3v1h-3zM277 274h1v1h-1zM324 274h1v1h-1zM374 274h1v1h-1zM424 274h1v1h-1zM474 274h1v1h-1zM521 274h1v1h-1zM523 274h1v1h-1zM274 276h1v1h-1zM274 278h1v1h-1zM274 280h1v1h-1zM274 282h1v1h-1zM26 284h1v1h-1zM28 284h1v1h-1zM30 284h1v1h-1zM34 284h1v1h-1zM44 284h1v1h-1zM54 284h1v1h-1zM64 284h1v1h-1zM74 284h1v1h-1zM84 284h1v1h-1zM94 284h1v1h-1zM104 284h1v1h-1zM114 284h1v1h-1zM124 284h1v1h-1zM134 284h1v1h-1zM144 284h1v1h-1zM154 284h1v1h-1zM164 284h1v1h-1zM174 284h1v1h-1zM184 284h1v1h-1zM194 284h1v1h-1zM204 284h1v1h-1zM214 284h1v1h-1zM224 284h1v1h-1zM234 284h1v1h-1zM244 284h1v1h-1zM254 284h1v1h-1zM264 284h1v1h-1zM268 284h1v1h-1zM270 284h1v1h-1zM272 284h1v1h-1zM274 284h1v1h-1zM276 284h1v1h-1zM278 284h1v1h-1zM280 284h1v1h-1zM284 284h1v1h-1zM294 284h1v1h-1zM304 284h1v1h-1zM314 284h1v1h-1zM324 284h1v1h-1zM334 284h1v1h-1zM344 284h1v1h-1zM354 284h1v1h-1zM364 284h1v1h-1zM374 284h1v1h-1zM384 284h1v1h-1zM394 284h1v1h-1zM404 284h1v1h-1zM414 284h1v1h-1zM424 284h1v1h-1zM434 284h1v1h-1zM444 284h1v1h-1zM454 284h1v1h-1zM464 284h1v1h-1zM474 284h1v1h-1zM484 284h1v1h-1zM494 284h1v1h-1zM504 284h1v1h-1zM514 284h1v1h-1zM518 284h1v1h-1zM520 284h1v1h-1zM522 284h1v1h-1zM274 286h1v1h-1zM274 288h1v1h-1zM274 290h1v1h-1zM274 292h1v1h-1zM25 294h1v1h-1zM27 294h1v1h-1zM74 294h1v1h-1zM124 294h1v1h-1zM174 294h1v1h-1zM224 294h1v1h-1zM271 294h1v1h-1zM273 294h3v1h-3zM277 294h1v1h-1zM324 294h1v1h-1zM374 294h1v1h-1zM424 294h1v1h-1zM474 294h1v1h-1zM521 294h1v1h-1zM523 294h1v1h-1zM274 296h1v1h-1zM274 298h1v1h-1zM274 300h1v1h-1zM274 302h1v1h-1zM25 304h1v1h-1zM27 304h1v1h-1zM74 304h1v1h-1zM124 304h1v1h-1zM174 304h1v1h-1zM224 304h1v1h-1zM271 304h1v1h-1zM273 304h3v1h-3zM277 304h1v1h-1zM324 304h1v1h-1zM374 304h1v1h-1zM424 304h1v1h-1zM474 304h1v1h-1zM521 304h1v1h-1zM523 304h1v1h-1zM274 306h1v1h-1zM274 308h1v1h-1zM274 310h1v1h-1zM274 312h1v1h-1zM25 314h1v1h-1zM27 314h1v1h-1zM74 314h1v1h-1zM124 314h1v1h-1zM174 314h1v1h-1zM224 314h1v1h-1zM271 314h1v1h-1zM273 314h3v1h-3zM277 314h1v1h-1zM324 314h1v1h-1zM374 314h1v1h-1zM424 314h1v1h-1zM474 314h1v1h-1zM521 314h1v1h-1zM523 314h1v1h-1zM274 316h1v1h-1zM274 318h1v1h-1zM274 320h1v1h-1zM274 322h1v1h-1zM25 324h1v1h-1zM27 324h1v1h-1zM74 324h1v1h-1zM124 324h1v1h-1zM174 324h1v1h-1zM224 324h1v1h-1zM271 324h1v1h-1zM273 324h3v1h-3zM277 324h1v1h-1zM324 324h1v1h-1zM374 324h1v1h-1zM424 324h1v1h-1zM474 324h1v1h-1zM521 324h1v1h-1zM523 324h1v1h-1zM274 326h1v1h-1zM274 328h1v1h-1zM274 330h1v1h-1zM274 332h1v1h-1zM26 334h1v1h-1zM28 334h1v1h-1zM30 334h1v1h-1zM34 334h1v1h-1zM44 334h1v1h-1zM54 334h1v1h-1zM64 334h1v1h-1zM74 334h1v1h-1zM84 334h1v1h-1zM94 334h1v1h-1zM104 334h1v1h-1zM114 334h1v1h-1zM124 334h1v1h-1zM134 334h1v1h-1zM144 334h1v1h-1zM154 334h1v1h-1zM164 334h1v1h-1zM174 334h1v1h-1zM184 334h1v1h-1zM194 334h1v1h-1zM204 334h1v1h-1zM214 334h1v1h-1zM224 334h1v1h-1zM234 334h1v1h-1zM244 334h1v1h-1zM254 334h1v1h-1zM264 334h1v1h-1zM268 334h1v1h-1zM270 334h1v1h-1zM272 334h1v1h-1zM274 334h1v1h-1zM276 334h1v1h-1zM278 334h1v1h-1zM280 334h1v1h-1zM284 334h1v1h-1zM294 334h1v1h-1zM304 334h1v1h-1zM314 334h1v1h-1zM324 334h1v1h-1zM334 334h1v1h-1zM344 334h1v1h-1zM354 334h1v1h-1zM364 334h1v1h-1zM374 334h1v1h-1zM384 334h1v1h-1zM394 334h1v1h-1zM404 334h1v1h-1zM414 334h1v1h-1zM424 334h1v1h-1zM434 334h1v1h-1zM444 334h1v1h-1zM454 334h1v1h-1zM464 334h1v1h-1zM474 334h1v1h-1zM484 334h1v1h-1zM494 334h1v1h-1zM504 334h1v1h-1zM514 334h1v1h-1zM518 334h1v1h-1zM520 334h1v1h-1zM522 334h1v1h-1zM274 336h1v1h-1zM274 338h1v1h-1zM274 340h1v1h-1zM274 342h1v1h-1zM25 344h1v1h-1zM27 344h1v1h-1zM74 344h1v1h-1zM124 344h1v1h-1zM174 344h1v1h-1zM224 344h1v1h-1zM271 344h1v1h-1zM273 344h3v1h-3zM277 344h1v1h-1zM324 344h1v1h-1zM374 344h1v1h-1zM424 344h1v1h-1zM474 344h1v1h-1zM521 344h1v1h-1zM523 344h1v1h-1zM274 346h1v1h-1zM274 348h1v1h-1zM274 350h1v1h-1zM274 352h1v1h-1zM25 354h1v1h-1zM27 354h1v1h-1zM74 354h1v1h-1zM124 354h1v1h-1zM174 354h1v1h-1zM224 354h1v1h-1zM271 354h1v1h-1zM273 354h3v1h-3zM277 354h1v1h-1zM324 354h1v1h-1zM374 354h1v1h-1zM424 354h1v1h-1zM474 354h1v1h-1zM521 354h1v1h-1zM523 354h1v1h-1zM274 356h1v1h-1zM274 358h1v1h-1zM274 360h1v1h-1zM274 362h1v1h-1zM25 364h1v1h-1zM27 364h1v1h-1zM74 364h1v1h-1zM124 364h1v1h-1zM174 364h1v1h-1zM224 364h1v1h-1zM271 364h1v1h-1zM273 364h3v1h-3zM277 364h1v1h-1zM324 364h1v1h-1zM374 364h1v1h-1zM424 364h1v1h-1zM474 364h1v1h-1zM521 364h1v1h-1zM523 364h1v1h-1zM274 366h1v1h-1zM274 368h1v1h-1zM274 370h1v1h-1zM274 372h1v1h-1zM25 374h1v1h-1zM27 374h1v1h-1zM74 374h1v1h-1zM124 374h1v1h-1zM174 374h1v1h-1zM224 374h1v1h-1zM271 374h1v1h-1zM273 374h3v1h-3zM277 374h1v1h-1zM324 374h1v1h-1zM374 374h1v1h-1zM424 374h1v1h-1zM474 374h1v1h-1zM521 374h1v1h-1zM523 374h1v1h-1zM274 376h1v1h-1zM274 378h1v1h-1zM274 380h1v1h-1zM274 382h1v1h-1zM26 384h1v1h-1zM28 384h1v1h-1zM30 384h1v1h-1zM34 384h1v1h-1zM44 384h1v1h-1zM54 384h1v1h-1zM64 384h1v1h-1zM74 384h1v1h-1zM84 384h1v1h-1zM94 384h1v1h-1zM104 384h1v1h-1zM114 384h1v1h-1zM124 384h1v1h-1zM134 384h1v1h-1zM144 384h1v1h-1zM154 384h1v1h-1zM164 384h1v1h-1zM174 384h1v1h-1zM184 384h1v1h-1zM194 384h1v1h-1zM204 384h1v1h-1zM214 384h1v1h-1zM224 384h1v1h-1zM234 384h1v1h-1zM244 384h1v1h-1zM254 384h1v1h-1zM264 384h1v1h-1zM268 384h1v1h-1zM270 384h1v1h-1zM272 384h1v1h-1zM274 384h1v1h-1zM276 384h1v1h-1zM278 384h1v1h-1zM280 384h1v1h-1zM284 384h1v1h-1zM294 384h1v1h-1zM304 384h1v1h-1zM314 384h1v1h-1zM324 384h1v1h-1zM334 384h1v1h-1zM344 384h1v1h-1zM354 384h1v1h-1zM364 384h1v1h-1zM374 384h1v1h-1zM384 384h1v1h-1zM394 384h1v1h-1zM404 384h1v1h-1zM414 384h1v1h-1zM424 384h1v1h-1zM434 384h1v1h-1zM444 384h1v1h-1zM454 384h1v1h-1zM464 384h1v1h-1zM474 384h1v1h-1zM484 384h1v1h-1zM494 384h1v1h-1zM504 384h1v1h-1zM514 384h1v1h-1zM518 384h1v1h-1zM520 384h1v1h-1zM522 384h1v1h-1zM274 386h1v1h-1zM274 388h1v1h-1zM274 390h1v1h-1zM274 392h1v1h-1zM25 394h1v1h-1zM27 394h1v1h-1zM74 394h1v1h-1zM124 394h1v1h-1zM174 394h1v1h-1zM224 394h1v1h-1zM271 394h1v1h-1zM273 394h3v1h-3zM277 394h1v1h-1zM324 394h1v1h-1zM374 394h1v1h-1zM424 394h1v1h-1zM474 394h1v1h-1zM521 394h1v1h-1zM523 394h1v1h-1zM274 396h1v1h-1zM274 398h1v1h-1zM274 400h1v1h-1zM274 402h1v1h-1zM25 404h1v1h-1zM27 404h1v1h-1zM74 404h1v1h-1zM124 404h1v1h-1zM174 404h1v1h-1zM224 404h1v1h-1zM271 404h1v1h-1zM273 404h3v1h-3zM277 404h1v1h-1zM324 404h1v1h-1zM374 404h1v1h-1zM424 404h1v1h-1zM474 404h1v1h-1zM521 404h1v1h-1zM523 404h1v1h-1zM274 406h1v1h-1zM274 408h1v1h-1zM274 410h1v1h-1zM274 412h1v1h-1zM25 414h1v1h-1zM27 414h1v1h-1zM74 414h1v1h-1zM124 414h1v1h-1zM174 414h1v1h-1zM224 414h1v1h-1zM271 414h1v1h-1zM273 414h3v1h-3zM277 414h1v1h-1zM324 414h1v1h-1zM374 414h1v1h-1zM424 414h1v1h-1zM474 414h1v1h-1zM521 414h1v1h-1zM523 414h1v1h-1zM274 416h1v1h-1zM274 418h1v1h-1zM274 420h1v1h-1zM274 422h1v1h-1zM25 424h1v1h-1zM27 424h1v1h-1zM74 424h1v1h-1zM124 424h1v1h-1zM174 424h1v1h-1zM224 424h1v1h-1zM271 424h1v1h-1zM273 424h3v1h-3zM277 424h1v1h-1zM324 424h1v1h-1zM374 424h1v1h-1zM424 424h1v1h-1zM474 424h1v1h-1zM521 424h1v1h-1zM523 424h1v1h-1zM274 426h1v1h-1zM74 428h1v1h-1zM124 428h1v1h-1zM174 428h1v1h-1zM224 428h1v1h-1zM274 428h1v1h-1zM324 428h1v1h-1zM374 428h1v1h-1zM424 428h1v1h-1zM474 428h1v1h-1zM74 430h1v1h-1zM124 430h1v1h-1zM174 430h1v1h-1zM224 430h1v1h-1zM274 430h1v1h-1zM324 430h1v1h-1zM374 430h1v1h-1zM424 430h1v1h-1zM474 430h1v1h-1zM34 431h1v1h-1zM44 431h1v1h-1zM54 431h1v1h-1zM64 431h1v1h-1zM84 431h1v1h-1zM94 431h1v1h-1zM104 431h1v1h-1zM114 431h1v1h-1zM134 431h1v1h-1zM144 431h1v1h-1zM154 431h1v1h-1zM164 431h1v1h-1zM184 431h1v1h-1zM194 431h1v1h-1zM204 431h1v1h-1zM214 431h1v1h-1zM234 431h1v1h-1zM244 431h1v1h-1zM254 431h1v1h-1zM264 431h1v1h-1zM284 431h1v1h-1zM294 431h1v1h-1zM304 431h1v1h-1zM314 431h1v1h-1zM334 431h1v1h-1zM344 431h1v1h-1zM354 431h1v1h-1zM364 431h1v1h-1zM384 431h1v1h-1zM394 431h1v1h-1zM404 431h1v1h-1zM414 431h1v1h-1zM434 431h1v1h-1zM444 431h1v1h-1zM454 431h1v1h-1zM464 431h1v1h-1zM484 431h1v1h-1zM494 431h1v1h-1zM504 431h1v1h-1zM514 431h1v1h-1zM74 432h1v1h-1zM124 432h1v1h-1zM174 432h1v1h-1zM224 432h1v1h-1zM274 432h1v1h-1zM324 432h1v1h-1zM374 432h1v1h-1zM424 432h1v1h-1zM474 432h1v1h-1zM34 433h1v1h-1zM44 433h1v1h-1zM54 433h1v1h-1zM64 433h1v1h-1zM84 433h1v1h-1zM94 433h1v1h-1zM104 433h1v1h-1zM114 433h1v1h-1zM134 433h1v1h-1zM144 433h1v1h-1zM154 433h1v1h-1zM164 433h1v1h-1zM204 433h1v1h-1zM214 433h1v1h-1zM234 433h1v1h-1zM244 433h1v1h-1zM254 433h1v1h-1zM264 433h1v1h-1zM284 433h1v1h-1zM294 433h1v1h-1zM304 433h1v1h-1zM314 433h1v1h-1zM334 433h1v1h-1zM344 433h1v1h-1zM354 433h1v1h-1zM364 433h1v1h-1zM384 433h1v1h-1zM394 433h1v1h-1zM404 433h1v1h-1zM414 433h1v1h-1zM434 433h1v1h-1zM444 433h1v1h-1zM454 433h1v1h-1zM464 433h1v1h-1zM484 433h1v1h-1zM494 433h1v1h-1zM504 433h1v1h-1zM514 433h1v1h-1zM25 434h118v1h-118zM144 434h23v1h-23zM198 434h97v1h-97zM296 434h228v1h-228zM432 436h5v1h-5zM432 437h5v1h-5zM432 438h1v1h-1zM432 439h1v1h-1zM432 440h1v1h-1zM429 443h1v1h-1zM429 444h1v1h-1zM425 445h5v1h-5zM425 446h5v1h-5z"/>
<text y="11.6"><tspan x="1.0" font-size="15.5" textLength="27.98" lengthAdjust="spacing">Tek</tspan></text>
<text class="w" y="11.6"><tspan x="35.0" font-size="15.5" textLength="42.97" lengthAdjust="spacing">Stop:</tspan></text>
<text y="11.6"><tspan x="85.0" textLength="74.95" lengthAdjust="spacing">10.0MS/s</tspan></text>
<text y="11.6"><tspan x="227.75" textLength="27.94" lengthAdjust="spacing">113</tspan> <tspan x="262.0" font-size="15.5" textLength="36.05" lengthAdjust="spacing">Acqs</tspan></text>
<text y="52.6"><tspan x="528.0" textLength="12.9" lengthAdjust="spacingAndGlyphs">Δ</tspan><tspan x="542.5">:</tspan> <tspan x="555.0" textLength="74.42" lengthAdjust="spacing">13.16kHz</tspan></text>
<text y="67.6"><tspan x="529.0" y="65.6" font-size="12.5" textLength="12.5" lengthAdjust="spacingAndGlyphs">@</tspan><tspan x="542.5" y="67.7">:</tspan> <tspan x="555.0" textLength="74.42" lengthAdjust="spacing">13.79kHz</tspan></text>
<text y="98.6"><tspan x="546.0" textLength="19.36" lengthAdjust="spacing">C2</tspan> <tspan x="571.0" font-size="15.5" textLength="50.49" lengthAdjust="spacing">Period</tspan></text>
<text y="113.6"><tspan x="551.0" textLength="64.7" lengthAdjust="spacing">75.70µs</tspan></text>
<text y="128.6"><tspan x="542.0" font-size="15.5" textLength="30.8" lengthAdjust="spacing">Low</tspan> <tspan x="579.0" font-size="15.5" textLength="46.26" lengthAdjust="spacing">signal</tspan></text>
<text y="143.6"><tspan x="543.0" font-size="15.5" textLength="81.03" lengthAdjust="spacing">amplitude</tspan></text>
<text class="w" y="446.6"><tspan x="167.25" textLength="31.3" lengthAdjust="spacing">Ch2</tspan></text>
<text y="446.6"><tspan x="227.0" textLength="27.69" lengthAdjust="spacing">100</tspan> <tspan x="261.25" textLength="8.93" lengthAdjust="spacingAndGlyphs">V</tspan></text>
<text y="446.6"><tspan x="301.0" textLength="13.79" lengthAdjust="spacingAndGlyphs">M</tspan> <tspan x="319.0" textLength="54.08" lengthAdjust="spacing">25.0µs</tspan></text>
<text y="446.6"><tspan x="388.0" textLength="30.27" lengthAdjust="spacing">Ch2</tspan></text>
<text y="446.6"><tspan x="484.6" textLength="18.85" lengthAdjust="spacing">94</tspan> <tspan x="510.0" textLength="9.74" lengthAdjust="spacingAndGlyphs">V</tspan></text>
<text y="449.6"><tspan x="531.5" textLength="18.81" lengthAdjust="spacing">13</tspan> <tspan x="557.0" font-size="15.5" textLength="27.2" lengthAdjust="spacing">Jun</tspan> <tspan x="589.6" textLength="39.61" lengthAdjust="spacing">2020</tspan></text>
<text y="469.6"><tspan x="531.0" textLength="72.02" lengthAdjust="spacing">08:14:25</tspan></text>
<text class="w" y="236.6"><tspan x="4.5" font-size="14">2</tspan></text>
<text x="147.0" y="29.0" style="font-size:15.0px;stroke-width:0.5" textLength="5.86" lengthAdjust="spacingAndGlyphs">[</text>
<text x="396.0" y="29.0" style="font-size:15.0px;stroke-width:0.5" textLength="5.86" lengthAdjust="spacingAndGlyphs">]</text>
<text x="277.0" y="29.0" style="font-size:14.0px;stroke-width:0.5" textLength="8.56" lengthAdjust="spacingAndGlyphs">T</text>
<text class="w" x="282.5" y="215.3" style="font-size:14.0px;stroke-width:0.0" textLength="9.51" lengthAdjust="spacingAndGlyphs">T</text>
</svg>
</body>
</html>
